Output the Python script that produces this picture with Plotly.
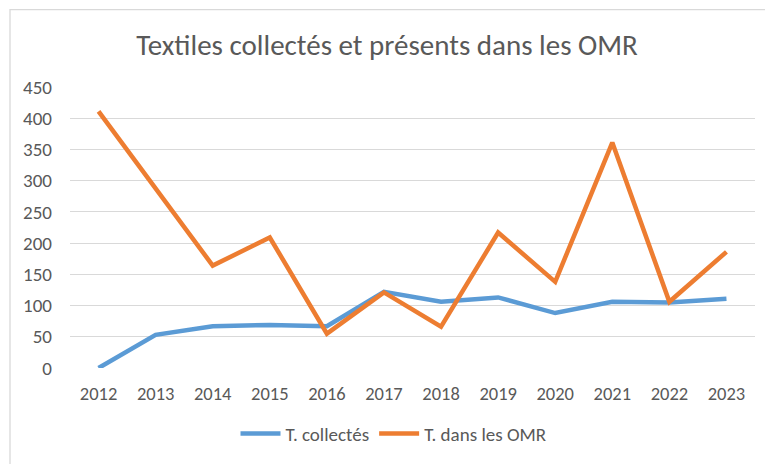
import plotly.graph_objects as go

years = ["2012", "2013", "2014", "2015", "2016", "2017", "2018", "2019", "2020", "2021", "2022", "2023"]
collectes = [0, 53, 67, 69, 67, 122, 106, 113, 88, 106, 105, 111]
omr = [411, 287, 164, 209, 55, 121, 66, 217, 138, 361, 106, 186]
y_ticks = [0, 50, 100, 150, 200, 250, 300, 350, 400, 450]

FONT = "Carlito, Open Sans, sans-serif"
GREY = "#595959"

# page body has an 8px default margin; figure is sized/offset to compensate
W, H = 765, 456
L, R, T, B = 62, 18, 79, 94
PW, PH = W - L - R, H - T - B

def px_x(fx):
    return (fx - L) / PW

def px_y(fy):
    return (H - B - fy) / PH

fig = go.Figure()
fig.add_trace(go.Scatter(x=years, y=collectes, mode="lines", name="T. collectés",
                         line=dict(color="#5B9BD5", width=4.5)))
fig.add_trace(go.Scatter(x=years, y=omr, mode="lines", name="T. dans les OMR",
                         line=dict(color="#ED7D31", width=4.5)))

fig.update_layout(
    width=W, height=H,
    margin=dict(l=L, r=R, t=T, b=B),
    paper_bgcolor="white", plot_bgcolor="white",
    font=dict(family=FONT, color=GREY, size=19),
    title=dict(text="Textiles collectés et présents dans les OMR", x=px_x(379), xanchor="center",
               xref="paper", y=1 - 37 / H, yanchor="middle",
               font=dict(size=29, color=GREY, family=FONT)),
    showlegend=True,
    legend=dict(orientation="h", x=px_x(386), xanchor="center", y=px_y(428), yanchor="middle",
                font=dict(size=19, color=GREY), itemwidth=40),
    xaxis=dict(type="category", range=[-0.5, 11.5], showgrid=False, zeroline=False,
               showline=False, ticks="", tickfont=dict(size=18.5, color=GREY),
               ticklabelstandoff=12),
    yaxis=dict(range=[0, 450], tickvals=y_ticks, showgrid=True, gridcolor="#D9D9D9",
               gridwidth=1.3, zeroline=False, showline=False, ticks="",
               tickfont=dict(size=19, color=GREY), ticklabelstandoff=17),
    shapes=[dict(type="rect", xref="paper", yref="paper",
                 x0=px_x(2), x1=px_x(800), y0=px_y(500), y1=px_y(1),
                 line=dict(color="#D9D9D9", width=1.3), layer="below")],
)

fig.write_html("out.html")
